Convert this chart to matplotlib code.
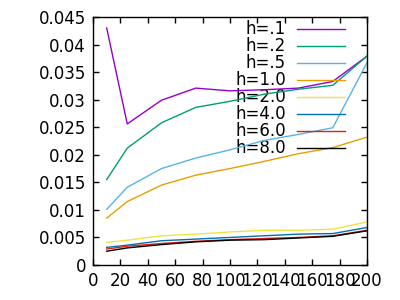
import matplotlib
matplotlib.use("Agg")
import matplotlib.pyplot as plt
from matplotlib.ticker import FuncFormatter

x_vals = [10, 25, 50, 75, 100, 125, 150, 175, 200]

labels = ["h=.1", "h=.2", "h=.5", "h=1.0", "h=2.0", "h=4.0", "h=6.0", "h=8.0"]
colors = ["#9400d3", "#009e73", "#56b4e9", "#e69f00",
          "#f0e442", "#0072b2", "#e51e10", "#000000"]

h01 = [0.0430, 0.0256, 0.0299, 0.0321, 0.0316, 0.0318, 0.0321, 0.0333, 0.0379]
h02 = [0.0155, 0.0212, 0.0258, 0.0286, 0.0297, 0.0310, 0.0319, 0.0326, 0.0379]
h05 = [0.0101, 0.0141, 0.0175, 0.0194, 0.0209, 0.0226, 0.0237, 0.0249, 0.0367]
h10 = [0.0085, 0.0115, 0.0145, 0.0163, 0.0175, 0.0188, 0.0202, 0.0213, 0.0232]
h20 = [0.0041, 0.0045, 0.0053, 0.0056, 0.0060, 0.0063, 0.0063, 0.0065, 0.0078]
h40 = [0.0032, 0.0036, 0.0044, 0.0047, 0.0050, 0.0053, 0.0056, 0.0057, 0.0068]
h60 = [0.0029, 0.0034, 0.0039, 0.0043, 0.0046, 0.0048, 0.0050, 0.0053, 0.0063]
h80 = [0.0025, 0.0031, 0.0037, 0.0042, 0.0045, 0.0046, 0.0049, 0.0052, 0.0062]

series = [h01, h02, h05, h10, h20, h40, h60, h80]

plt.rcParams["font.family"] = ["DejaVu Sans"]

fig = plt.figure(figsize=(4, 3), dpi=100)
ax = fig.add_axes([0.2325, 0.1167, 0.685, 0.8266])

for vals, col in zip(series, colors):
    ax.plot(x_vals, vals, color=col, linewidth=1, zorder=2)

# gnuplot-style key: right-aligned text, sample line to the right
for i, (lab, col) in enumerate(zip(labels, colors)):
    yk = 0.950 - i * 0.0685
    ax.text(0.704, yk, lab, transform=ax.transAxes, ha="right", va="center",
            fontsize=12, zorder=1)
    ax.plot([0.745, 0.920], [yk, yk], transform=ax.transAxes, color=col,
            linewidth=1, zorder=2)

ax.set_xlim(0, 200)
ax.set_ylim(0, 0.045)
ax.set_xticks(range(0, 201, 20))
ax.set_yticks([i * 0.005 for i in range(10)])
ax.yaxis.set_major_formatter(FuncFormatter(lambda v, p: f"{v:g}" if abs(v) > 1e-12 else "0"))
ax.tick_params(direction="in", top=True, right=True, length=4, width=1,
               labelsize=12, pad=5)
for sp in ax.spines.values():
    sp.set_linewidth(1)

fig.savefig("out.png", dpi=100)
